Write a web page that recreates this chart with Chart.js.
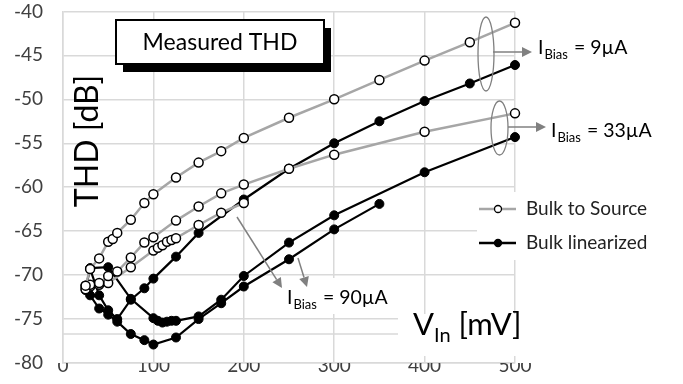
<!DOCTYPE html>
<html>
<head>
<meta charset="utf-8">
<script src="https://cdn.jsdelivr.net/npm/chart.js@4.4.1/dist/chart.umd.min.js"></script>
<style>
html, body { margin: 0; padding: 0; background: #fff; }
</style>
</head>
<body>
<canvas id="myChart" width="683" height="384"></canvas>
<script>
// measured THD vs input amplitude, three bias currents
const vinOpen9 = [25, 30, 40, 50, 55, 60, 75, 90, 100, 125, 150, 175, 200, 250, 300, 350, 400, 450, 500];
const thdOpen9 = [-71.2, -69.3, -68.1, -66.2, -65.9, -65.2, -63.7, -61.8, -60.8, -58.9, -57.2, -55.9, -54.4, -52.1, -50.0, -47.8, -45.6, -43.5, -41.3];

const vinOpen33 = [25, 30, 40, 50, 60, 75, 90, 100, 125, 150, 175, 200, 250, 300, 400, 500];
const thdOpen33 = [-71.6, -71.1, -70.9, -70.1, -69.6, -68.0, -66.3, -65.7, -63.8, -62.2, -60.7, -59.7, -57.9, -56.3, -53.7, -51.6];

const vinOpen90 = [25, 30, 40, 50, 75, 100, 105, 110, 115, 120, 125, 150, 175, 200];
const thdOpen90 = [-71.2, -71.3, -71.1, -70.9, -69.1, -67.2, -66.9, -66.6, -66.2, -66.0, -65.8, -64.3, -62.9, -61.8];

const vinLin9 = [25, 30, 40, 50, 60, 75, 90, 100, 125, 150, 200, 250, 300, 350, 400, 450, 500];
const thdLin9 = [-71.5, -69.3, -72.3, -74.0, -75.0, -72.8, -71.5, -70.4, -67.9, -65.2, -61.4, -57.9, -55.0, -52.5, -50.2, -48.2, -46.1];

const vinLin33 = [30, 50, 75, 100, 105, 110, 115, 120, 125, 150, 175, 200, 250, 300, 400, 500];
const thdLin33 = [-69.2, -69.1, -72.7, -74.9, -75.2, -75.4, -75.3, -75.2, -75.2, -74.7, -72.8, -70.1, -66.3, -63.2, -58.3, -54.3];

const vinLin90 = [25, 30, 40, 50, 60, 75, 90, 100, 125, 150, 175, 200, 250, 300, 350];
const thdLin90 = [-71.7, -72.3, -73.8, -74.5, -75.3, -76.7, -77.4, -77.9, -77.1, -75.0, -73.2, -71.3, -68.2, -64.8, -61.9];

const xTicks = [0, 100, 200, 300, 400, 500];
const yTicks = [-80, -75, -70, -65, -60, -55, -50, -45, -40];
const seriesNames = ['Bulk to Source', 'Bulk linearized'];
const biasLabels = ['9µA', '33µA', '90µA'];

const FONT = 'Lato, Calibri, sans-serif';
const GREY = '#a6a6a6';
const ARROW = '#808080';

function pts(xs, ys) {
  return xs.map((x, i) => ({ x: x, y: ys[i] }));
}

function openSet(xs, ys, label) {
  return {
    label: label, data: pts(xs, ys), borderColor: GREY, borderWidth: 2.5,
    pointRadius: 4.5, pointBackgroundColor: '#fff', pointBorderColor: '#000',
    pointBorderWidth: 1.5, tension: 0, clip: false
  };
}
function fillSet(xs, ys, label) {
  return {
    label: label, data: pts(xs, ys), borderColor: '#000', borderWidth: 2.2,
    pointRadius: 4.5, pointBackgroundColor: '#000', pointBorderColor: '#000',
    pointBorderWidth: 1, tension: 0, clip: false
  };
}

function arrow(ctx, x1, y1, x2, y2) {
  const a = Math.atan2(y2 - y1, x2 - x1);
  const hl = 10, hw = 5;
  const bx = x2 - hl * Math.cos(a), by = y2 - hl * Math.sin(a);
  ctx.strokeStyle = ARROW; ctx.fillStyle = ARROW; ctx.lineWidth = 1.5;
  ctx.beginPath(); ctx.moveTo(x1, y1); ctx.lineTo(bx, by); ctx.stroke();
  ctx.beginPath();
  ctx.moveTo(x2, y2);
  ctx.lineTo(bx + hw * Math.sin(a), by - hw * Math.cos(a));
  ctx.lineTo(bx - hw * Math.sin(a), by + hw * Math.cos(a));
  ctx.closePath(); ctx.fill();
}

function biasText(ctx, x, y, value) {
  ctx.fillStyle = '#000';
  ctx.textAlign = 'left'; ctx.textBaseline = 'alphabetic';
  ctx.font = '19.5px ' + FONT;
  ctx.fillText('I', x, y);
  let w = ctx.measureText('I').width + 1;
  ctx.font = '13px ' + FONT;
  ctx.fillText('Bias', x + w, y + 5);
  w += ctx.measureText('Bias').width + 1;
  ctx.font = '19.5px ' + FONT;
  ctx.fillText(' = ' + value, x + w, y);
}

const extras = {
  id: 'extras',
  beforeDatasetsDraw(chart) {
    const ctx = chart.ctx, a = chart.chartArea, ys = chart.scales.y;
    // horizontal axis line crossing above the bottom
    const yy = ys.getPixelForValue(-76.7);
    ctx.save();
    ctx.strokeStyle = '#d9d9d9'; ctx.lineWidth = 1.5;
    ctx.beginPath(); ctx.moveTo(a.left, yy); ctx.lineTo(a.right, yy); ctx.stroke();
    ctx.restore();
  },
  afterDatasetsDraw(chart) {
    const ctx = chart.ctx;
    ctx.save();

    // title box with shadow
    ctx.fillStyle = '#000';
    ctx.fillRect(123, 28, 208, 44);
    ctx.fillStyle = '#fff';
    ctx.fillRect(116, 20, 208, 44);
    ctx.strokeStyle = '#000'; ctx.lineWidth = 2;
    ctx.strokeRect(116, 20, 208, 44);
    ctx.fillStyle = '#000';
    ctx.font = '23px ' + FONT;
    ctx.textAlign = 'center'; ctx.textBaseline = 'middle';
    ctx.fillText('Measured THD', 220, 43);

    // y title inside plot
    ctx.save();
    ctx.translate(88, 141);
    ctx.rotate(-Math.PI / 2);
    ctx.font = '32px ' + FONT;
    ctx.fillText('THD [dB]', 0, 0);
    ctx.restore();

    // x title with white backing
    ctx.fillStyle = '#fff';
    ctx.fillRect(398, 314, 125, 42);
    ctx.fillStyle = '#000';
    ctx.textAlign = 'left'; ctx.textBaseline = 'alphabetic';
    ctx.font = '31px ' + FONT;
    ctx.fillText('V', 413, 335);
    let w = ctx.measureText('V').width;
    ctx.font = '20px ' + FONT;
    ctx.fillText('In', 413 + w, 342);
    w += ctx.measureText('In').width;
    ctx.font = '31px ' + FONT;
    ctx.fillText(' [mV]', 413 + w, 335);

    // bias group markers
    ctx.strokeStyle = ARROW; ctx.lineWidth = 1.3;
    ctx.beginPath(); ctx.ellipse(486, 54, 8, 37, 0, 0, Math.PI * 2); ctx.stroke();
    ctx.beginPath(); ctx.ellipse(499.5, 128, 8.5, 27, 0, 0, Math.PI * 2); ctx.stroke();
    arrow(ctx, 493, 52, 532, 52);
    arrow(ctx, 508, 127, 546, 127);
    biasText(ctx, 538, 54, biasLabels[0]);
    biasText(ctx, 551, 137, biasLabels[1]);

    ctx.fillStyle = '#fff';
    ctx.fillRect(283, 278, 110, 36);
    arrow(ctx, 237, 217, 282, 288);
    arrow(ctx, 298, 258, 307, 287);
    biasText(ctx, 287, 304, biasLabels[2]);

    // legend
    ctx.fillStyle = '#fff';
    ctx.fillRect(477, 192, 190, 68);
    const rows = [[209, GREY, '#fff'], [243, '#000', '#000']];
    rows.forEach((r, i) => {
      ctx.strokeStyle = r[1]; ctx.lineWidth = 2.5;
      ctx.beginPath(); ctx.moveTo(479, r[0]); ctx.lineTo(516, r[0]); ctx.stroke();
      ctx.beginPath(); ctx.arc(498, r[0], 3.5, 0, Math.PI * 2);
      ctx.fillStyle = r[2]; ctx.fill();
      ctx.strokeStyle = '#000'; ctx.lineWidth = 1.3; ctx.stroke();
      ctx.fillStyle = '#222';
      ctx.font = '19px ' + FONT;
      ctx.textAlign = 'left'; ctx.textBaseline = 'middle';
      ctx.fillText(seriesNames[i], 526, r[0]);
    });

    ctx.restore();
  }
};

document.addEventListener('DOMContentLoaded', function () {
  const chart1 = document.getElementById('myChart').getContext('2d');

  new Chart(chart1, {
    type: 'line',
    data: {
      datasets: [
        openSet(vinOpen9, thdOpen9, seriesNames[0]),
        openSet(vinOpen33, thdOpen33, seriesNames[0]),
        openSet(vinOpen90, thdOpen90, seriesNames[0]),
        fillSet(vinLin9, thdLin9, seriesNames[1]),
        fillSet(vinLin33, thdLin33, seriesNames[1]),
        fillSet(vinLin90, thdLin90, seriesNames[1]),
      ],
    },
    options: {
      responsive: false,
      animation: false,
      layout: { padding: { left: 0, right: 168, top: 11, bottom: 0 } },
      plugins: { legend: { display: false }, tooltip: { enabled: false } },
      scales: {
        x: {
          type: 'linear', min: 0, max: 500,
          afterBuildTicks: (s) => { s.ticks = xTicks.map(v => ({ value: v })); },
          afterFit: (s) => { s.height = 21; },
          grid: { color: '#d9d9d9', lineWidth: 1.5, drawTicks: false },
          border: { color: '#d9d9d9', width: 1.5 },
          ticks: { padding: -9, color: '#404040', font: { family: FONT, size: 19 } },
        },
        y: {
          min: -80, max: -40,
          afterBuildTicks: (s) => { s.ticks = yTicks.map(v => ({ value: v })); },
          afterFit: (s) => { s.width = 63; },
          grid: { color: '#d9d9d9', lineWidth: 1.5, drawTicks: true, tickLength: 20, tickColor: 'rgba(0,0,0,0)' },
          border: { color: '#d9d9d9', width: 1.5 },
          ticks: { padding: 0, color: '#404040', font: { family: FONT, size: 19 } },
        },
      },
    },
    plugins: [extras],
  });
});
</script>
</body>
</html>
